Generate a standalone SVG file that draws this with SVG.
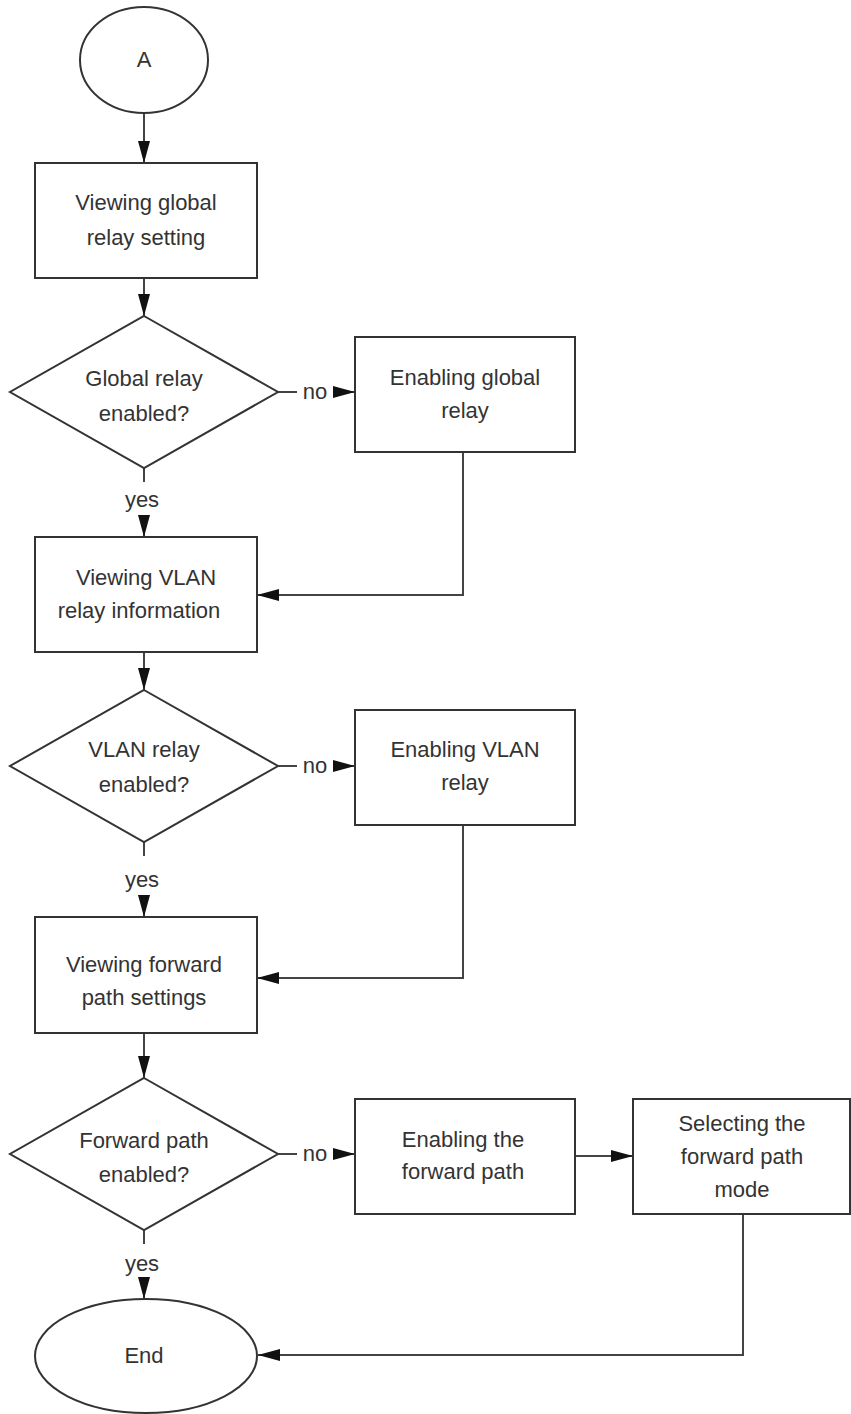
<svg xmlns="http://www.w3.org/2000/svg" width="851" height="1414" viewBox="0 0 851 1414">
<style>
.s{fill:#fff;stroke:#333;stroke-width:2}
.c{fill:none;stroke:#444;stroke-width:2}
.t{font-family:"Liberation Sans",Arial,sans-serif;font-size:22px;fill:#333;text-anchor:middle}
</style>
<defs>
<marker id="ah" markerUnits="userSpaceOnUse" markerWidth="24" markerHeight="12" refX="22" refY="6" orient="auto">
<path d="M0,0 L22,6 L0,12 Z" fill="#111"/>
</marker>
</defs>
<rect width="851" height="1414" fill="#fff"/>
<g id="connectors">
<line class="c" x1="144" y1="113" x2="144" y2="163" marker-end="url(#ah)"/>
<line class="c" x1="144" y1="278" x2="144" y2="316" marker-end="url(#ah)"/>
<line class="c" x1="278" y1="392" x2="297" y2="392"/>
<line class="c" x1="333" y1="392" x2="355" y2="392" marker-end="url(#ah)"/>
<text class="t" x="315" y="399">no</text>
<polyline class="c" points="463,452 463,595 257,595" marker-end="url(#ah)"/>
<line class="c" x1="144" y1="468" x2="144" y2="482"/>
<text class="t" x="142" y="507">yes</text>
<line class="c" x1="144" y1="515" x2="144" y2="537" marker-end="url(#ah)"/>
<line class="c" x1="144" y1="652" x2="144" y2="690" marker-end="url(#ah)"/>
<line class="c" x1="278" y1="766" x2="297" y2="766"/>
<line class="c" x1="333" y1="766" x2="355" y2="766" marker-end="url(#ah)"/>
<text class="t" x="315" y="773">no</text>
<polyline class="c" points="463,825 463,978 257,978" marker-end="url(#ah)"/>
<line class="c" x1="144" y1="842" x2="144" y2="856"/>
<text class="t" x="142" y="887">yes</text>
<line class="c" x1="144" y1="895" x2="144" y2="917" marker-end="url(#ah)"/>
<line class="c" x1="144" y1="1033" x2="144" y2="1078" marker-end="url(#ah)"/>
<line class="c" x1="278" y1="1154" x2="297" y2="1154"/>
<line class="c" x1="333" y1="1154" x2="355" y2="1154" marker-end="url(#ah)"/>
<text class="t" x="315" y="1161">no</text>
<line class="c" x1="575" y1="1156" x2="633" y2="1156" marker-end="url(#ah)"/>
<polyline class="c" points="743,1214 743,1355 258,1355" marker-end="url(#ah)"/>
<line class="c" x1="144" y1="1230" x2="144" y2="1244"/>
<text class="t" x="142" y="1271">yes</text>
<line class="c" x1="144" y1="1279" x2="144" y2="1299" marker-end="url(#ah)"/>
</g>
<g id="start">
<ellipse class="s" cx="144" cy="60" rx="64" ry="53"/>
<text class="t" x="144" y="67">A</text>
</g>
<g id="view-global">
<rect class="s" x="35" y="163" width="222" height="115"/>
<text class="t" x="146" y="210">Viewing global</text>
<text class="t" x="146" y="245">relay setting</text>
</g>
<g id="dec-global">
<polygon class="s" points="144,316 278,392 144,468 10,392"/>
<text class="t" x="144" y="386">Global relay</text>
<text class="t" x="144" y="421">enabled?</text>
</g>
<g id="enable-global">
<rect class="s" x="355" y="337" width="220" height="115"/>
<text class="t" x="465" y="385">Enabling global</text>
<text class="t" x="465" y="418">relay</text>
</g>
<g id="view-vlan">
<rect class="s" x="35" y="537" width="222" height="115"/>
<text class="t" x="146" y="585">Viewing VLAN</text>
<text class="t" x="139" y="618">relay information</text>
</g>
<g id="dec-vlan">
<polygon class="s" points="144,690 278,766 144,842 10,766"/>
<text class="t" x="144" y="757">VLAN relay</text>
<text class="t" x="144" y="792">enabled?</text>
</g>
<g id="enable-vlan">
<rect class="s" x="355" y="710" width="220" height="115"/>
<text class="t" x="465" y="757">Enabling VLAN</text>
<text class="t" x="465" y="790">relay</text>
</g>
<g id="view-forward">
<rect class="s" x="35" y="917" width="222" height="116"/>
<text class="t" x="144" y="972">Viewing forward</text>
<text class="t" x="144" y="1005">path settings</text>
</g>
<g id="dec-forward">
<polygon class="s" points="144,1078 278,1154 144,1230 10,1154"/>
<text class="t" x="144" y="1148">Forward path</text>
<text class="t" x="144" y="1182">enabled?</text>
</g>
<g id="enable-forward">
<rect class="s" x="355" y="1099" width="220" height="115"/>
<text class="t" x="463" y="1147">Enabling the</text>
<text class="t" x="463" y="1179">forward path</text>
</g>
<g id="select-mode">
<rect class="s" x="633" y="1099" width="217" height="115"/>
<text class="t" x="742" y="1131">Selecting the</text>
<text class="t" x="742" y="1164">forward path</text>
<text class="t" x="742" y="1197">mode</text>
</g>
<g id="end">
<ellipse class="s" cx="146" cy="1356" rx="111" ry="57"/>
<text class="t" x="144" y="1363">End</text>
</g>
</svg>
